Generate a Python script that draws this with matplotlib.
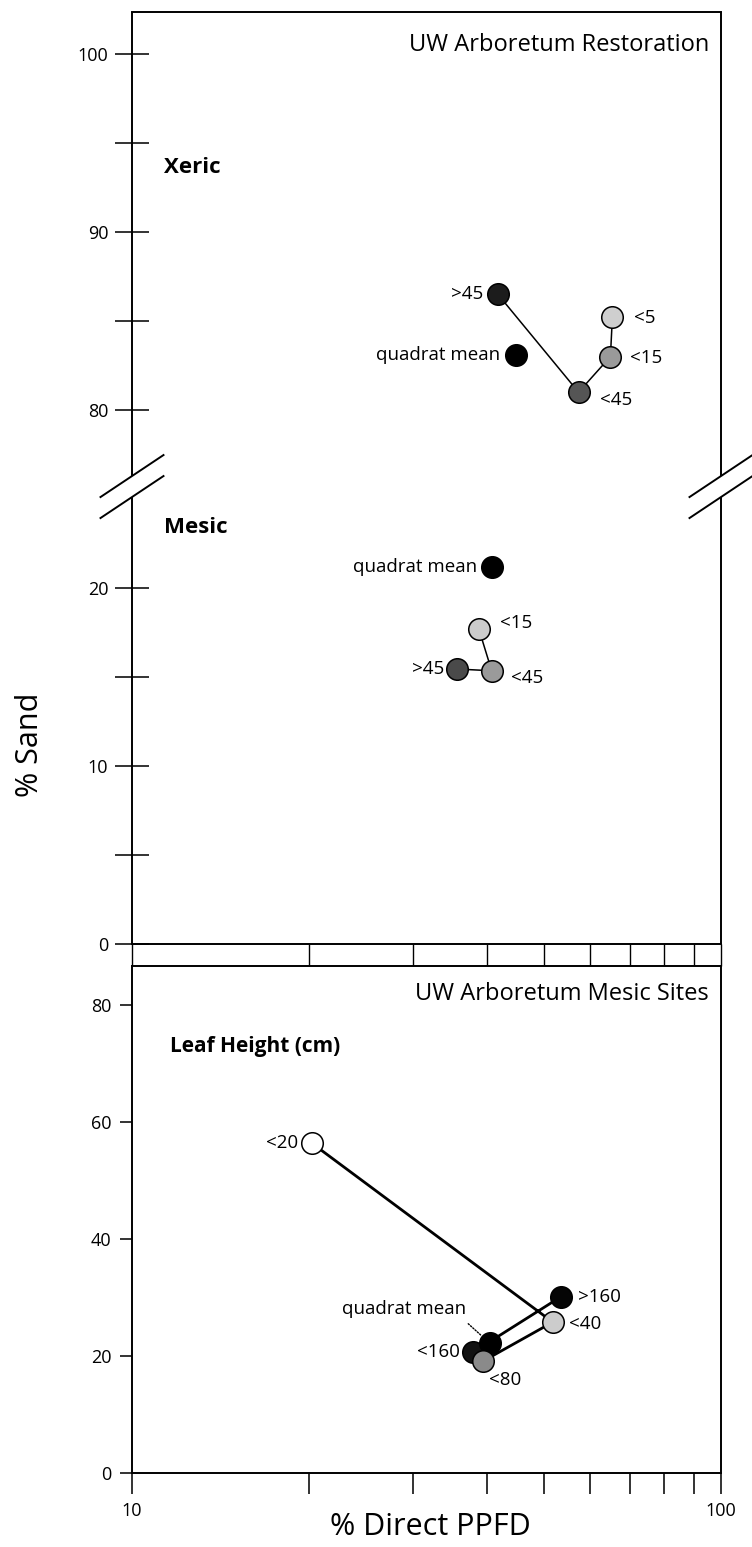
import numpy as np
import matplotlib.pyplot as plt
from matplotlib.ticker import NullLocator

plt.rcParams['font.family'] = ['Open Sans', 'DejaVu Sans']

# Upper panel, xeric quadrat (connected in size-class order)
xeric_labels = ['>45', '<45', '<15', '<5']
xeric_ppfd = [41.8, 57.3, 64.9, 65.4]
xeric_sand = [86.5, 81.0, 83.0, 85.2]
xeric_mean_ppfd = 44.8
xeric_mean_sand = 83.1

# Upper panel, mesic quadrat
mesic_labels = ['<15', '<45', '>45']
mesic_ppfd = [38.8, 40.8, 35.6]
mesic_sand = [17.7, 15.35, 15.45]
mesic_mean_ppfd = 40.8
mesic_mean_sand = 21.2

# Lower panel, leaf height classes
leaf_labels = ['<20', '<40', '<80', '<160', '>160']
leaf_ppfd = [20.2, 51.8, 39.4, 38.0, 53.4]
leaf_sand = [56.4, 25.8, 19.1, 20.7, 30.1]
leaf_mean_ppfd = 40.5
leaf_mean_sand = 22.2

sand_ticks_top = [0, 5, 10, 15, 20, 80, 85, 90, 95, 100]
sand_ticklabels_top = ['0', '', '10', '', '20', '80', '', '90', '', '100']
sand_ticks_bottom = [0, 20, 40, 60, 80]
ppfd_ticks = [10, 20, 30, 40, 50, 60, 70, 80, 90, 100]

BREAK_SHIFT = 50  # values above the break are folded down by this amount


def fold(v):
    v = np.asarray(v, dtype=float)
    return np.where(v > 50, v - BREAK_SHIFT, v)


W, H = 752, 1547
fig = plt.figure(figsize=(W / 100, H / 100), dpi=100)
ax1 = fig.add_axes([132 / W, 1 - 944 / H, (721 - 132) / W, (944 - 12) / H])
ax2 = fig.add_axes([132 / W, 1 - 1473 / H, (721 - 132) / W, (1473 - 966) / H])

LW = 1.4
for ax in (ax1, ax2):
    ax.set_xscale('log')
    ax.set_xlim(10, 100)
    ax.set_xticks(ppfd_ticks)
    ax.xaxis.set_minor_locator(NullLocator())
    for s in ax.spines.values():
        s.set_linewidth(LW)

MS = 15.5
EDGE = 1.1
LABEL_FS = 13.5
TICK_FS = 13


def dot(ax, x, y, fc, z=3):
    ax.plot([x], [y], 'o', ms=MS, mfc=fc, mec='black', mew=EDGE, zorder=z)


def label(ax, x, y, text, dx, dy, ha):
    ax.annotate(text, (x, y), xytext=(dx * 0.72, -dy * 0.72),
                textcoords='offset points', ha=ha, va='center',
                fontsize=LABEL_FS)


# ---- upper panel ----
ax1.set_ylim(0, 52.36)
ax1.plot(xeric_ppfd, fold(xeric_sand), '-', color='black', lw=1.1, zorder=2)
xeric_fc = ['#1c1c1c', '#555555', '#9a9a9a', '#cfcfcf']
xeric_off = [(-15, 0, 'right'), (21, 8, 'left'), (20, 1, 'left'), (22, 1, 'left')]
for x, y, t, fc, (dx, dy, ha) in zip(xeric_ppfd, fold(xeric_sand), xeric_labels,
                                     xeric_fc, xeric_off):
    dot(ax1, x, y, fc)
    label(ax1, x, y, t, dx, dy, ha)
dot(ax1, xeric_mean_ppfd, fold(xeric_mean_sand), 'black')
label(ax1, xeric_mean_ppfd, fold(xeric_mean_sand), 'quadrat mean', -15, 0, 'right')

ax1.plot(mesic_ppfd, mesic_sand, '-', color='black', lw=1.1, zorder=2)
mesic_fc = ['#cccccc', '#9a9a9a', '#4a4a4a']
mesic_off = [(21, -6, 'left'), (19, 7, 'left'), (-13, 0, 'right')]
for x, y, t, fc, (dx, dy, ha) in zip(mesic_ppfd, mesic_sand, mesic_labels,
                                     mesic_fc, mesic_off):
    dot(ax1, x, y, fc)
    label(ax1, x, y, t, dx, dy, ha)
dot(ax1, mesic_mean_ppfd, mesic_mean_sand, 'black')
label(ax1, mesic_mean_ppfd, mesic_mean_sand, 'quadrat mean', -15, 0, 'right')

ax1.set_yticks(fold(sand_ticks_top))
ax1.set_yticklabels(sand_ticklabels_top, fontsize=TICK_FS)
ax1.tick_params(axis='y', direction='inout', length=24, width=LW * 0.8, pad=5)
ax1.tick_params(axis='x', direction='out', length=22 * 0.72, width=1.0,
                labelbottom=False)

ax1.text(0.98, 0.965, 'UW Arboretum Restoration', transform=ax1.transAxes,
         ha='right', va='center', fontsize=17)
ax1.text(0.055, fold(93.65), 'Xeric', ha='left', va='center', fontsize=16,
         fontweight='bold', transform=ax1.get_yaxis_transform())
ax1.text(0.055, 23.4, 'Mesic', ha='left', va='center', fontsize=16,
         fontweight='bold', transform=ax1.get_yaxis_transform())

# broken side spines with double slashes
gap_lo, gap_hi = 25.1, 26.3
ax1.spines['left'].set_visible(False)
ax1.spines['right'].set_visible(False)
ytr = ax1.get_yaxis_transform()
ymax = ax1.get_ylim()[1]
for xa in (0, 1):
    ax1.plot([xa, xa], [0, gap_lo], color='black', lw=LW, transform=ytr,
             clip_on=False, solid_capstyle='butt')
    ax1.plot([xa, xa], [gap_hi, ymax], color='black', lw=LW, transform=ytr,
             clip_on=False, solid_capstyle='butt')
    cx, cy = ytr.transform((xa, (gap_lo + gap_hi) / 2))
    for off in (-10.5, 10.5):
        p0 = fig.transFigure.inverted().transform((cx - 31.5, cy + off - 21))
        p1 = fig.transFigure.inverted().transform((cx + 31.5, cy + off + 21))
        fig.lines.append(plt.Line2D([p0[0], p1[0]], [p0[1], p1[1]],
                                    color='black', lw=LW,
                                    transform=fig.transFigure))

# ---- lower panel ----
ax2.set_ylim(0, 86.7)
ax2.plot(leaf_ppfd, leaf_sand, '-', color='black', lw=2.0, zorder=2)
leaf_fc = ['white', '#cccccc', '#8a8a8a', '#111111', '#050505']
leaf_z = [3, 3, 5, 3, 3]
leaf_off = [(-14, 0, 'right'), (16, 2, 'left'), (6, 19, 'left'),
            (-14, 0, 'right'), (17, 0, 'left')]
for x, y, t, fc, z, (dx, dy, ha) in zip(leaf_ppfd, leaf_sand, leaf_labels,
                                        leaf_fc, leaf_z, leaf_off):
    dot(ax2, x, y, fc, z)
    label(ax2, x, y, t, dx, dy, ha)
dot(ax2, leaf_mean_ppfd, leaf_mean_sand, 'black', 4)
ax2.annotate('quadrat mean', (leaf_mean_ppfd, leaf_mean_sand),
             xytext=(-24 * 0.72, 34 * 0.72), textcoords='offset points',
             ha='right', va='center', fontsize=LABEL_FS,
             arrowprops=dict(arrowstyle='-', ls=(0, (1, 1.2)), lw=1.0,
                             relpos=(0.97, 0.0), shrinkA=3, shrinkB=8))

ax2.set_yticks(sand_ticks_bottom)
ax2.set_yticklabels([str(t) for t in sand_ticks_bottom], fontsize=TICK_FS)
ax2.tick_params(axis='y', direction='out', length=12 * 0.72, width=LW * 0.8,
                pad=6)
ax2.set_xticklabels(['10', '', '', '', '', '', '', '', '', '100'],
                    fontsize=TICK_FS)
ax2.tick_params(axis='x', direction='out', length=21 * 0.72, width=LW * 0.8,
                pad=6)

ax2.text(0.98, 0.945, 'UW Arboretum Mesic Sites', transform=ax2.transAxes,
         ha='right', va='center', fontsize=17)
ax2.text(0.065, 73, 'Leaf Height (cm)', ha='left', va='center', fontsize=15,
         fontweight='bold', transform=ax2.get_yaxis_transform())

fig.text(30 / W, 1 - 745 / H, '% Sand', rotation=90, ha='center',
         va='center', fontsize=22)
fig.text(430 / W, 1 - 1527 / H, '% Direct PPFD', ha='center', va='center',
         fontsize=22)

fig.savefig('out.png', dpi=100)
